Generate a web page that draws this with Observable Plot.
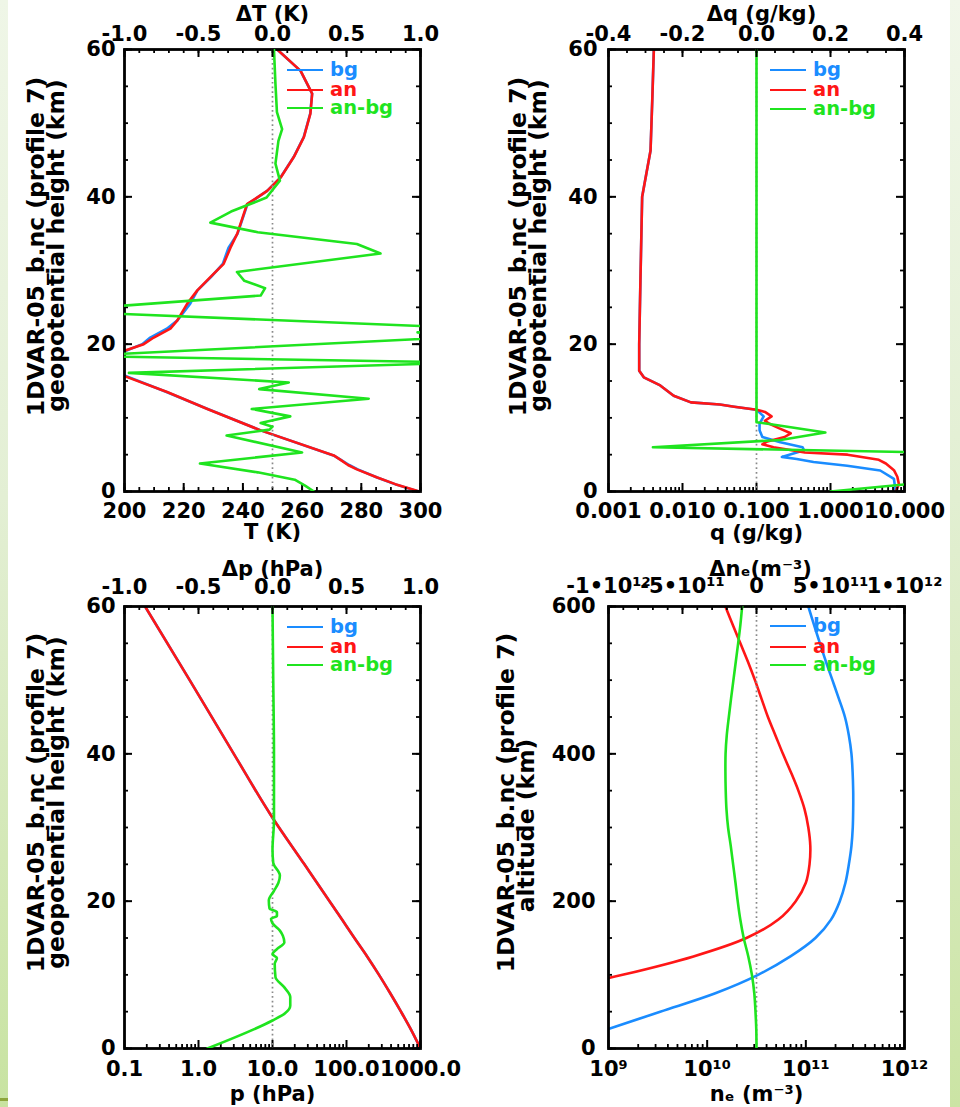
<!DOCTYPE html>
<html lang="en">
<head>
<meta charset="utf-8">
<title>1DVAR-05_b.nc (profile 7)</title>
<script src="https://cdn.jsdelivr.net/npm/d3@7"></script>
<script src="https://cdn.jsdelivr.net/npm/@observablehq/plot@0.6"></script>
<style>
  html, body { margin: 0; padding: 0; background: #fff; }
  #page { position: relative; width: 960px; height: 1107px; overflow: hidden; background: #fff;
          font-family: "DejaVu Sans", sans-serif; font-weight: bold; }
  .edge { position: absolute; top: 0; height: 1107px; }
  .edge.left { left: 0; width: 8px; background: linear-gradient(#eff6e7, #e3efd4 45%, #c8e3a1); }
  .edge.right { left: 950px; width: 10px; background: linear-gradient(#f1f7ea, #e2efd2 45%, #cbe4a4); }
  .edge-mark { position: absolute; left: 0; top: 1098px; width: 8px; height: 3px; background: #8da63c; }
  .panel { position: absolute; width: 480px; }
  .panel svg { position: absolute; left: 0; top: 0; }
  .legend { position: absolute; font-size: 19.5px; line-height: 18px; }
  .legend .row { position: absolute; left: 0; height: 18px; display: flex; align-items: center; white-space: nowrap; }
  .legend .swatch { width: 36px; height: 0; border-top: 2.6px solid; margin-right: 7px; }
</style>
</head>
<body>
<div id="page">
  <div class="edge left"></div>
  <div class="edge right"></div>
  <div class="edge-mark"></div>
</div>
<script>
// ---------- Temperature (K) vs geopotential height (km) ----------
const tHeight = [0, 1.0, 1.9, 3.0, 3.6, 4.3, 4.9, 8.3, 11.2, 13.5, 15.7, 16.8, 18.0, 19.1, 20.0, 20.9, 22.1, 23.2, 25.5, 27.3, 29.1, 30.9, 33.1, 35.0, 39.0, 40.8, 42.6, 45.4, 48.1, 51.3, 54.0, 57.1, 60];
const tBg = [299.3, 291.3, 285.35, 278.8, 275.9, 273.1, 270.6, 246.0, 228.1, 214.2, 200.4, 196.5, 197.5, 200.5, 206.0, 208.7, 214.3, 217.8, 222.2, 224.65, 229.2, 233.2, 235.15, 238.2, 241.55, 248.2, 252.65, 257.15, 260.55, 262.75, 263.38, 259.48, 251.59];
const tAn = [299.6, 291.5, 285.4, 278.5, 275.5, 273.0, 270.7, 246.0, 228.0, 214.4, 199.8, 196.5, 197.5, 200.0, 206.5, 209.9, 215.5, 217.8, 221.2, 224.6, 229.0, 233.5, 235.8, 238.1, 241.4, 248.2, 252.7, 257.2, 260.6, 262.8, 263.4, 259.5, 251.6];
const dtHeight = [0, 0.8, 1.6, 2.6, 3.8, 5.3, 7.6, 8.4, 8.8, 9.3, 10.2, 11.2, 12.6, 13.9, 14.8, 16.1, 17.5, 18.4, 20.9, 21.6, 22.3, 24.5, 26.6, 27.6, 28.6, 29.8, 32.3, 33.6, 35.2, 36.5, 38.0, 39.9, 42.2, 44.5, 47.6, 49.2, 51.5, 55.3, 60];
const dtDiff = [0.28, 0.22, 0.15, -0.10, -0.49, 0.20, -0.31, -0.02, 0.0, -0.08, 0.12, -0.14, 0.65, -0.09, 0.11, -0.97, 1.3, -1.3, 1.2, 0.98, 1.2, -1.5, -0.08, -0.05, -0.19, -0.24, 0.73, 0.57, -0.10, -0.42, -0.28, -0.04, 0.05, 0.02, 0.04, 0.065, 0.03, 0.02, 0.01];
const tTicks = [200, 220, 240, 260, 280, 300];
const tTickLabels = ["200", "220", "240", "260", "280", "300"];
const dtTicks = [-1, -0.5, 0, 0.5, 1];
const dtTickLabels = ["-1.0", "-0.5", "0.0", "0.5", "1.0"];

// ---------- Specific humidity (g/kg) ----------
const qBgHeight = [0, 0.4, 1.7, 2.85, 3.5, 4.0, 4.4, 4.7, 5.1, 5.6, 6.0, 6.7, 7.4, 8.3, 9.2, 10.2, 11.1, 11.5, 11.8, 12.1, 13.0, 14.4, 15.5, 16.4, 20.0, 28.6, 40.0, 46.3, 53.0, 60];
const qBg = [7.3, 7.5, 7.2, 4.7, 1.68, 0.59, 0.35, 0.22, 0.3, 0.44, 0.42, 0.21, 0.12, 0.11, 0.11, 0.125, 0.10, 0.05, 0.032, 0.013, 0.0076, 0.005, 0.003, 0.0026, 0.0026, 0.0027, 0.00285, 0.0037, 0.0039, 0.0041];
const qAnHeight = [0, 1.0, 2.0, 2.9, 3.8, 4.3, 5.0, 5.3, 5.6, 6.0, 6.4, 6.8, 7.4, 7.9, 8.6, 9.2, 9.6, 10.2, 10.8, 11.1, 11.5, 11.8, 12.1, 13.0, 14.4, 15.5, 16.4, 20.0, 28.6, 40.0, 46.3, 53.0, 60];
const qAn = [7.6, 8.4, 8.0, 7.2, 5.6, 4.5, 1.7, 0.45, 0.3, 0.17, 0.12, 0.14, 0.24, 0.29, 0.2, 0.15, 0.13, 0.16, 0.13, 0.10, 0.05, 0.032, 0.013, 0.0076, 0.005, 0.003, 0.0026, 0.0026, 0.0027, 0.00285, 0.0037, 0.0039, 0.0041];
const dqHeight = [0, 1.2, 2.5, 3.5, 5.0, 6.0, 7.0, 8.0, 9.2, 9.4, 10.2, 11.1, 60];
const dqDiff = [0.2, 0.45, 1.0, 1.1, 0.8, -0.28, 0.065, 0.186, 0.03, 0.0, 0.0, 0.0, 0.0];
const qTicks = [0.001, 0.01, 0.1, 1, 10];
const qTickLabels = ["0.001", "0.010", "0.100", "1.000", "10.000"];
const dqTicks = [-0.4, -0.2, 0, 0.2, 0.4];
const dqTickLabels = ["-0.4", "-0.2", "0.0", "0.2", "0.4"];

// ---------- Pressure (hPa) ----------
const pHeight = [0, 2.5, 5, 7.5, 10, 12.5, 15, 17.5, 20, 25, 31.4, 40, 50, 60];
const pBg = [1000.4, 750.3, 545.1, 390.1, 275.1, 190, 128, 87, 59, 27, 9.9, 3.0, 0.76, 0.19];
const pAn = [1000, 750, 545, 390, 275, 190, 128, 87, 59, 27, 9.9, 3.0, 0.76, 0.19];
const dpHeight = [0, 3.8, 4.7, 5.8, 7.0, 8.3, 9.7, 11.5, 12.3, 12.8, 13.5, 14.4, 15.3, 16.0, 17.0, 17.6, 18.0, 18.5, 19.0, 20.1, 21.4, 22.5, 23.5, 25.2, 27, 31, 40, 50, 60];
const dpDiff = [-0.44, 0.0, 0.08, 0.12, 0.12, 0.08, 0.02, 0.015, 0.03, 0.0, 0.03, 0.08, 0.07, 0.05, 0.0, -0.01, 0.03, 0.03, -0.02, -0.025, 0.01, 0.04, 0.05, 0.005, 0.0, 0.01, 0.01, 0.005, 0.0];
const pTicks = [0.1, 1, 10, 100, 1000];
const pTickLabels = ["0.1", "1.0", "10.0", "100.0", "1000.0"];
const dpTicks = [-1, -0.5, 0, 0.5, 1];
const dpTickLabels = ["-1.0", "-0.5", "0.0", "0.5", "1.0"];

// ---------- Electron density (m^-3) vs altitude (km), 25 km levels ----------
const neHeight = [0, 25, 50, 75, 100, 125, 150, 175, 200, 225, 250, 275, 300, 325, 350, 375, 400, 425, 450, 475, 500, 525, 550, 575, 600];
const neBg = [2.5e8, 9.2e8, 3.34e9, 1.21e10, 3.28e10, 6.98e10, 1.25e11, 1.80e11, 2.21e11, 2.52e11, 2.73e11, 2.90e11, 2.99e11, 3.02e11, 3.02e11, 2.98e11, 2.90e11, 2.73e11, 2.49e11, 2.16e11, 1.86e11, 1.60e11, 1.39e11, 1.21e11, 1.06e11];
const neAn = [4e6, 1.2e7, 4e7, 1.9e8, 1.39e9, 7.26e9, 2.5e10, 5.27e10, 7.9e10, 1.0e11, 1.09e11, 1.11e11, 1.06e11, 9.7e10, 8.4e10, 7.06e10, 5.86e10, 4.92e10, 4.13e10, 3.55e10, 3.05e10, 2.59e10, 2.17e10, 1.82e10, 1.53e10];
const neDiff = [0, -1.35e9, -6.8e9, -1.49e10, -3.11e10, -5.54e10, -8.65e10, -1.095e11, -1.27e11, -1.42e11, -1.58e11, -1.74e11, -1.92e11, -2.03e11, -2.08e11, -2.10e11, -2.09e11, -2.01e11, -1.87e11, -1.72e11, -1.56e11, -1.40e11, -1.24e11, -1.09e11, -9.7e10];
const neTicks = [1e9, 1e10, 1e11, 1e12];
const neTickLabels = ["10\u2079", "10\u00b9\u2070", "10\u00b9\u00b9", "10\u00b9\u00b2"];
const dneTicks = [-1e12, -5e11, 0, 5e11, 1e12];
const dneTickLabels = ["-1\u202210\u00b9\u00b2", "-5\u202210\u00b9\u00b9", "0", "5\u202210\u00b9\u00b9", "1\u202210\u00b9\u00b2"];

// ---------- vertical axes ----------
const kmTicks = [0, 20, 40, 60];
const altTicks = [0, 200, 400, 600];

// ---------- styling ----------
const FONT = "DejaVu Sans";
const BLUE = "#1a8cff", RED = "#ff1616", GREEN = "#1fe41f";
const PW = 296, PH = 442;       // plot-area size of every panel
const LINE_W = 2.6;

const rows = (hs, vs) => hs.map((h, i) => ({h, v: vs[i]}));
const labelFormat = (ticks, labels) => { const m = new Map(ticks.map((t, i) => [t, labels[i]])); return d => m.get(d); };
const logMinor = (lo, hi) => {
  const out = [];
  for (let e = Math.round(Math.log10(lo)); e < Math.round(Math.log10(hi)); ++e)
    for (let m = 2; m <= 9; ++m) out.push(m * Math.pow(10, e));
  return out;
};

const panels = [
  { left: 0, top: 0, height: 553, mLeft: 124, mTop: 49,
    x: {type: "linear", domain: [200, 300]}, xTicks: tTicks, xLabels: tTickLabels, xMinor: d3.range(200, 301, 5),
    d: {type: "linear", domain: [-1, 1]}, dTicks: dtTicks, dLabels: dtTickLabels, dMinor: d3.range(-10, 11).map(k => k / 10),
    y: [0, 60], yTicks: kmTicks, yMinor: d3.range(0, 61, 5),
    bg: rows(tHeight, tBg), an: rows(tHeight, tAn), diff: rows(dtHeight, dtDiff), curve: "linear",
    xTitle: "T (K)", dTitle: "\u0394T (K)",
    yTitle: ["1DVAR-05_b.nc (profile 7)", "geopotential height (km)"],
    yTitleDx: [-81, -61], yTitleDy: [-24, -25],
    bottomPad: 12, topPad: 9, leftPad: 9, xTitleDy: 47, dTitleDy: -29, dTitleDx: 0,
    legend: {x: 287, y: [70, 90, 108]} },
  { left: 480, top: 0, height: 553, mLeft: 128, mTop: 49,
    x: {type: "log", domain: [0.001, 10]}, xTicks: qTicks, xLabels: qTickLabels, xMinor: logMinor(0.001, 10),
    d: {type: "linear", domain: [-0.4, 0.4]}, dTicks: dqTicks, dLabels: dqTickLabels, dMinor: d3.range(-8, 9).map(k => k / 20),
    y: [0, 60], yTicks: kmTicks, yMinor: d3.range(0, 61, 5),
    bg: rows(qBgHeight, qBg), an: rows(qAnHeight, qAn), diff: rows(dqHeight, dqDiff), curve: "linear",
    xTitle: "q (g/kg)", dTitle: "\u0394q (g/kg)",
    yTitle: ["1DVAR-05_b.nc (profile 7)", "geopotential height (km)"],
    yTitleDx: [-83, -63], yTitleDy: [-24, -25],
    bottomPad: 12, topPad: 9, leftPad: 11, xTitleDy: 48, dTitleDy: -29, dTitleDx: 5,
    legend: {x: 770, y: [70, 90, 109]} },
  { left: 0, top: 553, height: 554, mLeft: 124, mTop: 53,
    x: {type: "log", domain: [0.1, 1000]}, xTicks: pTicks, xLabels: pTickLabels, xMinor: logMinor(0.1, 1000),
    d: {type: "linear", domain: [-1, 1]}, dTicks: dpTicks, dLabels: dpTickLabels, dMinor: d3.range(-10, 11).map(k => k / 10),
    y: [0, 60], yTicks: kmTicks, yMinor: d3.range(0, 61, 5),
    bg: rows(pHeight, pBg), an: rows(pHeight, pAn), diff: rows(dpHeight, dpDiff), curve: "monotone-y",
    xTitle: "p (hPa)", dTitle: "\u0394p (hPa)",
    yTitle: ["1DVAR-05_b.nc (profile 7)", "geopotential height (km)"],
    yTitleDx: [-81, -61], yTitleDy: [-25, -25],
    bottomPad: 13, topPad: 13, leftPad: 9, xTitleDy: 52, dTitleDy: -31, dTitleDx: 0,
    legend: {x: 287, y: [627, 647, 665]} },
  { left: 480, top: 553, height: 554, mLeft: 128, mTop: 53,
    x: {type: "log", domain: [1e9, 1e12]}, xTicks: neTicks, xLabels: neTickLabels, xMinor: logMinor(1e9, 1e12),
    d: {type: "linear", domain: [-1e12, 1e12]}, dTicks: dneTicks, dLabels: dneTickLabels, dMinor: d3.range(-10, 11).map(k => k * 1e11),
    y: [0, 600], yTicks: altTicks, yMinor: d3.range(0, 601, 50),
    bg: rows(neHeight, neBg), an: rows(neHeight, neAn), diff: rows(neHeight, neDiff), curve: "catmull-rom",
    xTitle: "n\u2091 (m\u207b\u00b3)", dTitle: "\u0394n\u2091(m\u207b\u00b3)",
    yTitle: ["1DVAR-05_b.nc (profile 7)", "altitude (km)"],
    yTitleDx: [-95, -75], yTitleDy: [-25, -2],
    bottomPad: 13, topPad: 14, leftPad: 13, xTitleDy: 52, dTitleDy: -31, dTitleDx: 4,
    legend: {x: 770, y: [626, 647, 665]} }
];

const page = document.getElementById("page");

for (const p of panels) {
  const box = document.createElement("div");
  box.className = "panel";
  box.style.left = p.left + "px";
  box.style.top = p.top + "px";
  box.style.height = p.height + "px";
  page.appendChild(box);

  const frame = {
    width: 480, height: p.height,
    marginLeft: p.mLeft, marginRight: 480 - p.mLeft - PW,
    marginTop: p.mTop, marginBottom: p.height - p.mTop - PH,
    style: {fontFamily: FONT, fontWeight: "bold", fontSize: "21px", background: "transparent", overflow: "visible", color: "#000"}
  };

  // profile layer: bg / an curves, bottom and side axes, frame
  const main = Plot.plot({
    ...frame,
    x: p.x,
    y: {domain: p.y},
    marks: [
      Plot.line(p.bg, {x: "v", y: "h", stroke: BLUE, strokeWidth: LINE_W, curve: p.curve, clip: true}),
      Plot.line(p.an, {x: "v", y: "h", stroke: RED, strokeWidth: LINE_W, curve: p.curve, clip: true}),
      Plot.tickX(p.xMinor, {x: d => d, insetTop: PH - 4, strokeWidth: 1.8}),
      Plot.tickX(p.xTicks, {x: d => d, insetTop: PH - 8, strokeWidth: 2}),
      Plot.tickY(p.yMinor, {y: d => d, insetRight: PW - 4, strokeWidth: 1.8}),
      Plot.tickY(p.yMinor, {y: d => d, insetLeft: PW - 4, strokeWidth: 1.8}),
      Plot.tickY(p.yTicks, {y: d => d, insetRight: PW - 8, strokeWidth: 2}),
      Plot.tickY(p.yTicks, {y: d => d, insetLeft: PW - 8, strokeWidth: 2}),
      Plot.frame({stroke: "#000", strokeWidth: 2.8}),
      Plot.axisX(p.xTicks, {anchor: "bottom", tickSize: 0, tickPadding: p.bottomPad, tickFormat: labelFormat(p.xTicks, p.xLabels), label: null, fontSize: 21}),
      Plot.axisY(p.yTicks, {anchor: "left", tickSize: 0, tickPadding: p.leftPad, label: null, fontSize: 21}),
      Plot.text([p.xTitle], {text: d => d, frameAnchor: "bottom", lineAnchor: "bottom", dy: p.xTitleDy, fontSize: 21}),
      ...p.yTitle.map((t, i) => Plot.text([t], {
        text: d => d, frameAnchor: "left", rotate: -90, textAnchor: "middle", lineAnchor: "bottom",
        dx: p.yTitleDx[i], dy: p.yTitleDy[i], fontSize: 23.5
      }))
    ]
  });
  box.appendChild(main);

  // increment layer: an-bg on its own linear scale, drawn against the top axis
  const delta = Plot.plot({
    ...frame,
    x: p.d,
    y: {domain: p.y, axis: null},
    marks: [
      Plot.ruleX([0], {stroke: "#8a8a8a", strokeWidth: 1.7, strokeDasharray: "1.7,3"}),
      Plot.line(p.diff, {x: "v", y: "h", stroke: GREEN, strokeWidth: LINE_W, curve: p.curve, clip: true}),
      Plot.tickX(p.dMinor, {x: d => d, insetBottom: PH - 4, strokeWidth: 1.8}),
      Plot.tickX(p.dTicks, {x: d => d, insetBottom: PH - 8, strokeWidth: 2}),
      Plot.axisX(p.dTicks, {anchor: "top", tickSize: 0, tickPadding: p.topPad, tickFormat: labelFormat(p.dTicks, p.dLabels), label: null, fontSize: 21}),
      Plot.text([p.dTitle], {text: d => d, frameAnchor: "top", lineAnchor: "bottom", dx: p.dTitleDx, dy: p.dTitleDy, fontSize: 21})
    ]
  });
  box.appendChild(delta);

  // legend
  const legend = document.createElement("div");
  legend.className = "legend";
  legend.style.left = p.legend.x + "px";
  legend.style.top = "0px";
  [["bg", BLUE], ["an", RED], ["an-bg", GREEN]].forEach(([name, color], i) => {
    const row = document.createElement("div");
    row.className = "row";
    row.style.top = (p.legend.y[i] - 9) + "px";
    row.style.color = color;
    const sw = document.createElement("span");
    sw.className = "swatch";
    sw.style.borderTopColor = color;
    row.appendChild(sw);
    row.appendChild(document.createTextNode(name));
    legend.appendChild(row);
  });
  page.appendChild(legend);
}
</script>
</body>
</html>
